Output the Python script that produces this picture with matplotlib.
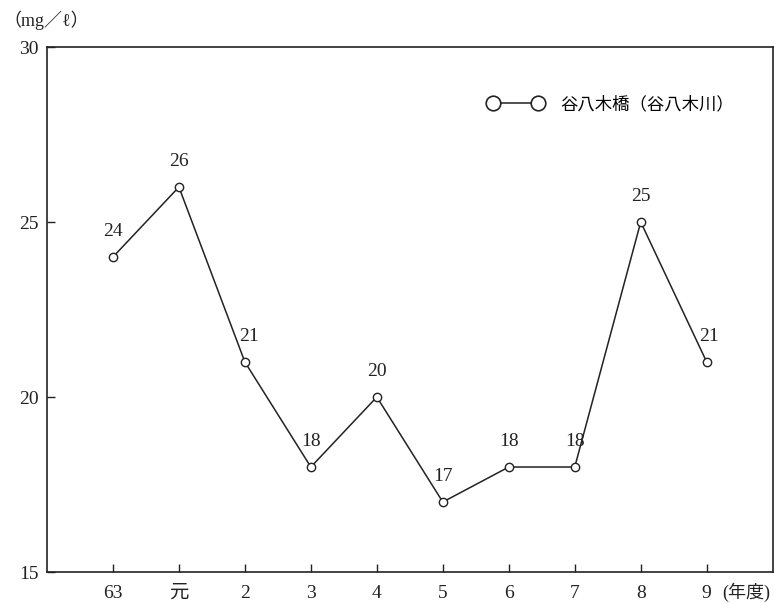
import matplotlib
matplotlib.use('agg')
import matplotlib.pyplot as plt
from matplotlib.lines import Line2D

plt.rcParams['font.family'] = ['Liberation Serif', 'Noto Sans CJK JP']

# data
years = ["63", "元", "2", "3", "4", "5", "6", "7", "8", "9"]
values = [24, 26, 21, 18, 20, 17, 18, 18, 25, 21]
label_dx = [0, 0, 4, 0, 0, 0, 0, 0, 0, 2]   # px shift of the value labels
series_name = "谷八木橋（谷八木川）"
y_ticks = [15, 20, 25, 30]

fig = plt.figure(figsize=(7.75, 6.03), dpi=100)
ax = fig.add_axes([0.0606, 0.0514, 0.9364, 0.8706])

x = list(range(len(years)))
ax.plot(x, values, color="#222222", lw=1.1, marker="o", ms=6,
        mfc="white", mec="#222222", mew=1.0, zorder=3)

for xi, v, dx in zip(x, values, label_dx):
    ax.annotate(str(v), (xi, v), xytext=(dx * 0.72, 12), textcoords="offset points",
                ha="center", va="bottom", fontsize=14, color="#222222")

ax.set_xlim(-1, 10)
ax.set_ylim(15, 30)
ax.set_xticks(x)
ax.set_xticklabels(years)
ax.set_yticks(y_ticks)
ax.set_yticklabels([str(t) for t in y_ticks])
ax.tick_params(direction="in", length=6, width=1, labelsize=14, colors="#222222", pad=9)
ax.tick_params(axis="y", pad=6)
for s in ax.spines.values():
    s.set_linewidth(1.2)
    s.set_color("#222222")

fig.text(0.005, 0.967, "（mg／ℓ）", fontsize=13, color="#222222", ha="left", va="center")
fig.text(0.932, 0.018, "(年度)", fontsize=13, color="#222222", ha="left", va="center")

h = Line2D([0], [0], color="#222222", lw=1.1, marker="o", ms=10.5,
           mfc="white", mec="#222222", mew=1.2)
ax.legend([h], [series_name], loc="upper right", bbox_to_anchor=(0.969, 0.935),
          numpoints=2, handlelength=3.2, frameon=False, fontsize=12.5,
          handletextpad=1.0)

fig.savefig("out.png", dpi=100)
